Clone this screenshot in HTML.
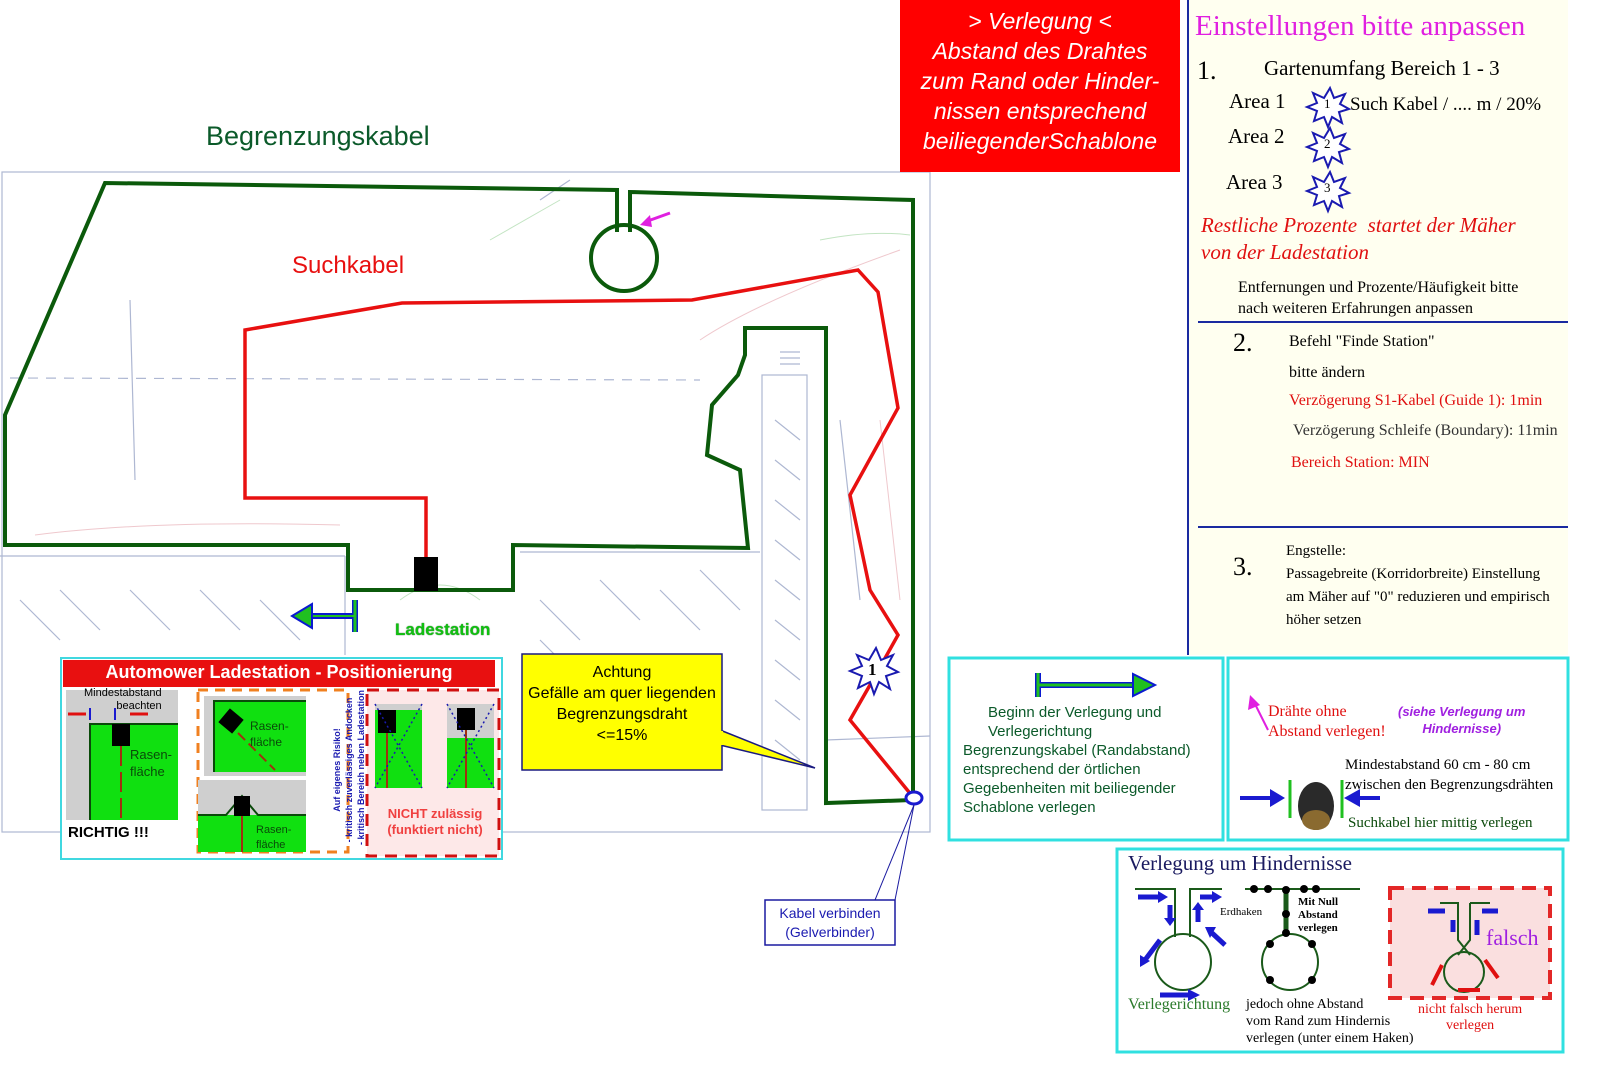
<!DOCTYPE html>
<html><head><meta charset="utf-8"><style>
body{margin:0;width:1600px;height:1081px;background:#fff;overflow:hidden;font-family:"Liberation Sans",sans-serif;position:relative}
.a{position:absolute;white-space:nowrap}
.s{font-family:"Liberation Serif",serif}
</style></head><body>
<svg width="1600" height="1081" style="position:absolute;left:0;top:0">
<rect x="1188" y="0" width="380" height="655" fill="#fffff0"/>
<line x1="1188" y1="0" x2="1188" y2="655" stroke="#1a2aa0" stroke-width="2"/>
<line x1="1198" y1="322" x2="1568" y2="322" stroke="#1a2aa0" stroke-width="2"/>
<line x1="1198" y1="527" x2="1568" y2="527" stroke="#1a2aa0" stroke-width="2"/>
<g stroke="#9aa6c8" stroke-width="1.2" fill="none" opacity="0.8">
<rect x="2" y="172" width="928" height="660"/>
<line x1="10" y1="378" x2="700" y2="380" stroke-dasharray="10 8"/>
<line x1="0" y1="556" x2="345" y2="556"/>
<line x1="520" y1="552" x2="760" y2="552"/>
<rect x="762" y="375" width="45" height="435"/>
<line x1="780" y1="352" x2="800" y2="352"/><line x1="780" y1="358" x2="800" y2="358"/><line x1="780" y1="364" x2="800" y2="364"/>
<line x1="826" y1="740" x2="930" y2="736"/>
<line x1="345" y1="556" x2="345" y2="655"/>
<path d="M20 600 L60 640 M60 590 L100 630 M130 590 L170 630 M200 590 L240 630 M260 600 L300 640 M540 600 L580 640 M600 580 L640 620 M660 590 L700 630 M700 570 L740 610 M540 640 L560 660"/>
<path d="M130 300 L135 480 M540 200 L570 180 M840 420 L860 600"/>
<path d="M775 420 L800 440 M775 460 L800 480 M775 500 L800 520 M775 540 L800 560 M775 580 L800 600 M775 620 L800 640 M775 660 L800 680 M775 700 L800 720 M775 740 L800 760"/>
</g>
<g stroke="#e8b0b8" stroke-width="1" fill="none" opacity="0.7">
<path d="M35 535 Q150 520 340 525"/><path d="M700 340 Q760 300 900 250"/><path d="M880 420 L900 600"/>
</g>
<g stroke="#a8d8a8" stroke-width="1" fill="none" opacity="0.7">
<path d="M490 240 L560 200"/><path d="M820 240 Q870 230 910 235"/><path d="M400 600 Q440 570 480 600"/>
</g>
<path d="M630 232 L630 192 L913 200 L913 800 L826 803 L826 328 L745 328 L745 355 L738 375 L712 405 L707 455 L740 470 L748 548 L513 545 L513 590 L348 590 L348 545 L5 545 L5 415 L105 183 L617 190 L617 232" fill="none" stroke="#0b5a0b" stroke-width="4" stroke-linejoin="miter"/>
<circle cx="624" cy="258" r="33" fill="none" stroke="#0b5a0b" stroke-width="4"/>
<line x1="670" y1="213" x2="645" y2="222" stroke="#e020e0" stroke-width="3"/>
<path d="M640 225 L650 215 L652 227 Z" fill="#e020e0"/>
<path d="M426 573 L426 498 L245 498 L245 330 L402 303 L692 300 L858 270 L878 292 L898 408 L850 495 L870 590 L898 635 L870 685 L850 720 L913 797" fill="none" stroke="#e81010" stroke-width="3.5"/>
<rect x="414" y="557" width="24" height="34" fill="#000"/>
<ellipse cx="914" cy="798" rx="8" ry="6" fill="#fff" stroke="#1a1ad0" stroke-width="3"/>
<polygon points="876,648 881,660 893,655 887,666 898,672 886,676 890,689 879,682 874,694 870,682 858,688 862,676 850,671 862,666 857,655 869,660" fill="#fff" stroke="#1a1ab0" stroke-width="2"/>
<path d="M355 600 L355 632 M355 616 L310 616" stroke="#0a1ad0" stroke-width="6" fill="none"/>
<path d="M355 600 L355 632" stroke="#20c020" stroke-width="3"/>
<path d="M355 616 L305 616" stroke="#20c020" stroke-width="2"/>
<polygon points="292,616 312,604 312,628" fill="#20c020" stroke="#0a1ad0" stroke-width="2"/>
<polygon points="720,730 815,768 720,745" fill="#ffff00" stroke="#1a1a80" stroke-width="1.5"/>
<rect x="522" y="654" width="200" height="116" fill="#ffff00" stroke="#1a1a80" stroke-width="1.5"/>
<rect x="718" y="731" width="5" height="14" fill="#ffff00"/>
<line x1="914" y1="805" x2="875" y2="900" stroke="#1a1aa0" stroke-width="1"/>
<line x1="914" y1="805" x2="895" y2="900" stroke="#1a1aa0" stroke-width="1"/>
<rect x="765" y="900" width="130" height="45" fill="#fff" stroke="#1a1aa0" stroke-width="1.5"/>
<rect x="900" y="0" width="280" height="172" fill="#ff0000"/>
<g fill="#fff" stroke="#1a1ab0" stroke-width="2">
<polygon points="1330,88 1334,98 1345,94 1340,104 1349,109 1339,112 1342,123 1332,117 1328,127 1324,117 1314,121 1317,111 1307,107 1317,103 1313,93 1324,98"/>
<polygon points="1330,128 1334,138 1345,134 1340,144 1349,149 1339,152 1342,163 1332,157 1328,167 1324,157 1314,161 1317,151 1307,147 1317,143 1313,133 1324,138"/>
<polygon points="1330,172 1334,182 1345,178 1340,188 1349,193 1339,196 1342,207 1332,201 1328,211 1324,201 1314,205 1317,195 1307,191 1317,187 1313,177 1324,182"/>
</g>
<rect x="949" y="658" width="274" height="182" fill="#fff" stroke="#30e0e0" stroke-width="3"/>
<rect x="1228" y="658" width="340" height="182" fill="#fff" stroke="#30e0e0" stroke-width="3"/>
<rect x="1117" y="849" width="446" height="203" fill="#fff" stroke="#30e0e0" stroke-width="3"/>
<path d="M1038 673 L1038 697 M1038 685 L1135 685" stroke="#0a1ad0" stroke-width="6"/>
<path d="M1038 673 L1038 697 M1038 685 L1135 685" stroke="#20c020" stroke-width="3"/>
<polygon points="1155,685 1133,674 1133,696" fill="#20c020" stroke="#0a1ad0" stroke-width="2"/>
<line x1="1268" y1="730" x2="1254" y2="702" stroke="#e020e0" stroke-width="2"/>
<polygon points="1250,695 1248,710 1260,705" fill="#e020e0"/>
<line x1="1240" y1="798" x2="1272" y2="798" stroke="#1a1ad0" stroke-width="4"/><polygon points="1285,798 1270,789 1270,807" fill="#1a1ad0"/>
<line x1="1380" y1="798" x2="1358" y2="798" stroke="#1a1ad0" stroke-width="4"/><polygon points="1344,798 1360,789 1360,807" fill="#1a1ad0"/>
<line x1="1290" y1="780" x2="1290" y2="818" stroke="#20c020" stroke-width="3"/>
<line x1="1342" y1="780" x2="1342" y2="818" stroke="#20c020" stroke-width="3"/>
<ellipse cx="1316" cy="806" rx="18" ry="24" fill="#2a2a2a"/><ellipse cx="1316" cy="820" rx="14" ry="10" fill="#8a6a30"/>
<g stroke="#1a5a1a" stroke-width="2" fill="none">
<path d="M1135 889 L1175 889 L1175 937 M1190 937 L1190 889 L1222 889"/>
<circle cx="1183" cy="962" r="28"/>
<path d="M1245 889 L1360 889"/><path d="M1286 889 L1286 934" stroke-width="5"/>
<circle cx="1290" cy="962" r="28"/>
</g>
<g fill="#000"><circle cx="1254" cy="889" r="4"/><circle cx="1268" cy="889" r="4"/><circle cx="1286" cy="890" r="4"/><circle cx="1304" cy="889" r="4"/><circle cx="1316" cy="889" r="4"/><circle cx="1286" cy="914" r="4"/><circle cx="1286" cy="933" r="4"/><circle cx="1270" cy="944" r="4"/><circle cx="1312" cy="944" r="4"/><circle cx="1270" cy="980" r="4"/><circle cx="1312" cy="980" r="4"/></g>
<rect x="1390" y="888" width="160" height="110" fill="#fadcdc" stroke="#e01010" stroke-width="4" stroke-dasharray="14 8" opacity="0.9"/>
<g stroke="#1a5a1a" stroke-width="2" fill="none"><path d="M1440 903 L1458 903 L1458 940 L1470 955 M1470 903 L1470 940 L1458 955 M1490 903 L1470 903"/><circle cx="1464" cy="972" r="20"/></g>
<g stroke="#1a1ad0" stroke-width="5">
<line x1="1138" y1="897" x2="1160" y2="897"/><line x1="1170" y1="905" x2="1170" y2="920"/><line x1="1198" y1="922" x2="1198" y2="908"/><line x1="1200" y1="897" x2="1215" y2="897"/>
<line x1="1160" y1="940" x2="1145" y2="960"/><line x1="1225" y1="945" x2="1212" y2="933"/><line x1="1160" y1="995" x2="1190" y2="995"/>
<line x1="1428" y1="911" x2="1445" y2="911"/><line x1="1453" y1="920" x2="1453" y2="932"/><line x1="1477" y1="935" x2="1477" y2="920"/><line x1="1482" y1="911" x2="1498" y2="911"/>
</g>
<g fill="#1a1ad0"><polygon points="1168,897 1158,891 1158,903"/><polygon points="1170,926 1164,918 1176,918"/><polygon points="1198,902 1192,910 1204,910"/><polygon points="1222,897 1212,891 1212,903"/><polygon points="1140,967 1140,955 1150,961"/><polygon points="1200,995 1188,989 1188,1001"/><polygon points="1205,927 1216,927 1210,938"/></g>
<g stroke="#e01010" stroke-width="4"><line x1="1432" y1="985" x2="1442" y2="965"/><line x1="1485" y1="960" x2="1498" y2="978"/><line x1="1480" y1="990" x2="1458" y2="990"/></g>
<rect x="61" y="658" width="441" height="201" fill="#fff" stroke="#40d8e0" stroke-width="2"/>
<rect x="63" y="660" width="432" height="27" fill="#e81010"/>
<rect x="66" y="690" width="112" height="130" fill="#cfcfcf"/>
<rect x="90" y="724" width="88" height="96" fill="#10e010"/>
<path d="M90 820 L90 724 L178 724" stroke="#0a4a0a" stroke-width="2" fill="none"/>
<rect x="112" y="724" width="18" height="22" fill="#000"/>
<line x1="121" y1="746" x2="121" y2="820" stroke="#a03010" stroke-width="2" stroke-dasharray="20 6"/>
<g stroke="#e01010" stroke-width="3"><line x1="68" y1="714" x2="86" y2="714"/><line x1="130" y1="714" x2="148" y2="714"/></g>
<line x1="90" y1="708" x2="90" y2="720" stroke="#1a1ad0" stroke-width="2"/><line x1="115" y1="708" x2="115" y2="720" stroke="#1a1ad0" stroke-width="2"/>
<rect x="198" y="690" width="150" height="162" fill="none" stroke="#f08020" stroke-width="3" stroke-dasharray="10 7"/>
<rect x="204" y="696" width="102" height="80" fill="#cfcfcf"/><rect x="214" y="701" width="92" height="71" fill="#10e010"/>
<path d="M214 772 L214 701 L306 701" stroke="#0a4a0a" stroke-width="2" fill="none"/>
<rect x="222" y="712" width="18" height="18" fill="#000" transform="rotate(40 231 721)"/>
<line x1="238" y1="733" x2="275" y2="770" stroke="#a03010" stroke-width="2" stroke-dasharray="10 5"/>
<rect x="198" y="780" width="108" height="72" fill="#cfcfcf"/><rect x="198" y="815" width="108" height="37" fill="#10e010"/>
<path d="M198 815 L226 815 L242 796 L258 815 L306 815" stroke="#0a4a0a" stroke-width="2" fill="none"/>
<rect x="234" y="796" width="16" height="20" fill="#000"/>
<line x1="242" y1="816" x2="242" y2="852" stroke="#a03010" stroke-width="2"/>
<rect x="367" y="690" width="132" height="166" fill="#fde8e8" stroke="#d01010" stroke-width="3" stroke-dasharray="12 8"/>
<rect x="375" y="704" width="47" height="84" fill="#cfcfcf"/><rect x="375" y="710" width="47" height="78" fill="#10e010"/>
<rect x="378" y="710" width="18" height="23" fill="#000"/><line x1="387" y1="733" x2="387" y2="788" stroke="#a03010" stroke-width="2"/>
<rect x="447" y="704" width="47" height="84" fill="#cfcfcf"/><rect x="447" y="738" width="47" height="50" fill="#10e010"/>
<rect x="457" y="708" width="18" height="22" fill="#000"/><line x1="466" y1="730" x2="466" y2="788" stroke="#a03010" stroke-width="2"/>
<g stroke="#1a1ab0" stroke-width="1.5" stroke-dasharray="2 3"><line x1="375" y1="704" x2="422" y2="788"/><line x1="422" y1="704" x2="375" y2="788"/><line x1="447" y1="704" x2="494" y2="788"/><line x1="494" y1="704" x2="447" y2="788"/></g>
</svg>

<div class="a" style="left:206px;top:121px;font-size:27px;color:#0b5a2a">Begrenzungskabel</div>
<div class="a" style="left:292px;top:252px;font-size:24px;color:#e81010">Suchkabel</div>
<div class="a" style="left:395px;top:620px;font-size:17px;color:#10c010;font-weight:bold;text-shadow:0 0 1px #0a4a0a">Ladestation</div>
<div class="a" style="left:522px;top:662px;width:200px;text-align:center;font-size:16px;line-height:21px;color:#000;white-space:normal">Achtung<br>Gefälle am quer liegenden Begrenzungsdraht<br>&lt;=15%</div>
<div class="a" style="left:765px;top:904px;width:130px;text-align:center;font-size:14px;line-height:19px;color:#1a1ab0">Kabel verbinden<br>(Gelverbinder)</div>
<div class="a" style="left:900px;top:6px;width:280px;text-align:center;font-size:23px;line-height:30px;color:#fff;font-style:italic">&gt; Verlegung &lt;<br>Abstand des Drahtes<br>zum Rand oder Hinder-<br>nissen entsprechend<br>beiliegenderSchablone</div>
<div class="a" style="left:868px;top:660px;font-size:17px;font-weight:bold;font-family:'Liberation Serif',serif;color:#000">1</div>

<div class="a s" style="left:1195px;top:10px;font-size:29px;color:#e020e0">Einstellungen bitte anpassen</div>
<div class="a s" style="left:1197px;top:56px;font-size:26px">1.</div>
<div class="a s" style="left:1264px;top:56px;font-size:21px">Gartenumfang Bereich 1 - 3</div>
<div class="a s" style="left:1229px;top:89px;font-size:21px">Area 1</div>
<div class="a s" style="left:1228px;top:124px;font-size:21px">Area 2</div>
<div class="a s" style="left:1226px;top:170px;font-size:21px">Area 3</div>
<div class="a s" style="left:1324px;top:96px;font-size:13px">1</div>
<div class="a s" style="left:1324px;top:136px;font-size:13px">2</div>
<div class="a s" style="left:1324px;top:180px;font-size:13px">3</div>
<div class="a s" style="left:1350px;top:94px;font-size:19px">Such Kabel / .... m / 20%</div>
<div class="a s" style="left:1201px;top:212px;font-size:21px;line-height:27px;color:#e01010;font-style:italic">Restliche Prozente&nbsp; startet der Mäher<br>von der Ladestation</div>
<div class="a s" style="left:1238px;top:277px;font-size:16px;line-height:21px">Entfernungen und Prozente/Häufigkeit bitte<br>nach weiteren Erfahrungen anpassen</div>
<div class="a s" style="left:1233px;top:328px;font-size:26px">2.</div>
<div class="a s" style="left:1289px;top:333px;font-size:16px">Befehl "Finde Station"</div>
<div class="a s" style="left:1289px;top:364px;font-size:16px">bitte ändern</div>
<div class="a s" style="left:1289px;top:392px;font-size:16px;color:#e01010">Verzögerung S1-Kabel (Guide 1): 1min</div>
<div class="a s" style="left:1293px;top:422px;font-size:16px;color:#333">Verzögerung Schleife (Boundary): 11min</div>
<div class="a s" style="left:1291px;top:454px;font-size:16px;color:#e01010">Bereich Station: MIN</div>
<div class="a s" style="left:1233px;top:552px;font-size:26px">3.</div>
<div class="a s" style="left:1286px;top:540px;font-size:15px;line-height:23px">Engstelle:<br>Passagebreite (Korridorbreite) Einstellung<br>am Mäher auf "0" reduzieren und empirisch<br>höher setzen</div>

<div class="a" style="left:963px;top:703px;font-size:15px;line-height:19px;color:#0b5a2a">&nbsp;&nbsp;&nbsp;&nbsp;&nbsp;&nbsp;Beginn der Verlegung und<br>&nbsp;&nbsp;&nbsp;&nbsp;&nbsp;&nbsp;Verlegerichtung<br>Begrenzungskabel (Randabstand)<br>entsprechend der örtlichen<br>Gegebenheiten mit beiliegender<br>Schablone verlegen</div>
<div class="a s" style="left:1268px;top:702px;font-size:16px;line-height:20px;color:#e01010">Drähte ohne<br>Abstand verlegen!</div>
<div class="a" style="left:1398px;top:703px;font-size:13px;line-height:17px;color:#a020e0;font-style:italic;font-weight:bold;text-align:center">(siehe Verlegung um<br>Hindernisse)</div>
<div class="a s" style="left:1345px;top:755px;font-size:15px;line-height:20px">Mindestabstand 60 cm - 80 cm<br>zwischen den Begrenzungsdrähten</div>
<div class="a s" style="left:1348px;top:815px;font-size:15px;color:#0b4a0b">Suchkabel hier mittig verlegen</div>

<div class="a s" style="left:1128px;top:851px;font-size:21px;color:#1a1a60">Verlegung um Hindernisse</div>
<div class="a s" style="left:1128px;top:996px;font-size:16px;color:#2a7a2a">Verlegerichtung</div>
<div class="a s" style="left:1246px;top:996px;font-size:14px;line-height:17px">jedoch ohne Abstand<br>vom Rand zum Hindernis<br>verlegen (unter einem Haken)</div>
<div class="a s" style="left:1220px;top:906px;font-size:11px">Erdhaken</div>
<div class="a s" style="left:1298px;top:896px;font-size:11px;font-weight:bold;line-height:13px">Mit Null<br>Abstand<br>verlegen</div>
<div class="a s" style="left:1486px;top:925px;font-size:22px;color:#a020e0">falsch</div>
<div class="a s" style="left:1418px;top:1002px;font-size:14px;line-height:16px;color:#e01010;text-align:center">nicht falsch herum<br>verlegen</div>

<div class="a" style="left:63px;top:662px;width:432px;text-align:center;font-size:18px;font-weight:bold;color:#fff">Automower Ladestation - Positionierung</div>
<div class="a" style="left:84px;top:687px;font-size:11px;line-height:13px;text-align:right">Mindestabstand<br>beachten</div>
<div class="a" style="left:130px;top:746px;font-size:13px;line-height:17px;color:#0a4a0a">Rasen-<br>fläche</div>
<div class="a" style="left:250px;top:718px;font-size:12px;line-height:16px;color:#0a4a0a">Rasen-<br>fläche</div>
<div class="a" style="left:256px;top:823px;font-size:11px;line-height:15px;color:#0a4a0a">Rasen-<br>fläche</div>
<div class="a" style="left:68px;top:824px;font-size:15px;font-weight:bold">RICHTIG !!!</div>
<div class="a" style="left:372px;top:806px;width:126px;text-align:center;font-size:13px;line-height:16px;color:#f04040;font-weight:bold">NICHT zulässig<br>(funktiert nicht)</div>
<div class="a" style="left:274px;top:752px;width:150px;transform:rotate(-90deg);transform-origin:center;font-size:9px;line-height:12px;color:#1a1ab0;font-weight:bold;text-align:center">Auf eigenes Risiko!<br>- kritisch zuverlässiges Andocken<br>- kritisch Bereich neben Ladestation</div>
</body></html>
